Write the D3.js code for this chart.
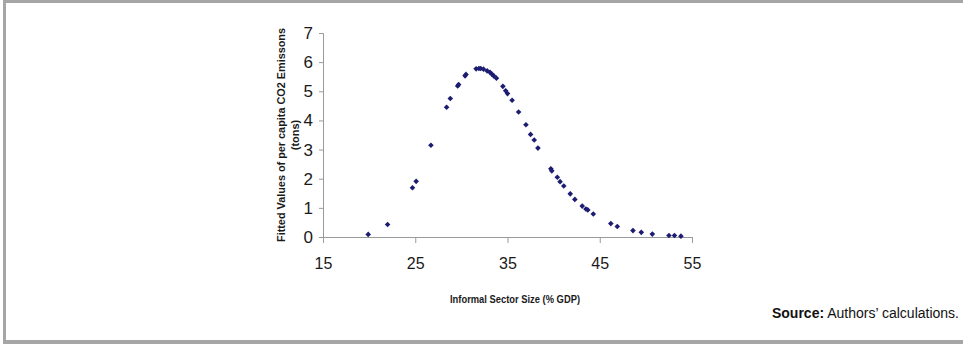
<!DOCTYPE html>
<html>
<head>
<meta charset="utf-8">
<script src="https://cdn.jsdelivr.net/npm/d3@7"></script>
<style>
  body { margin: 0; background: #fff; }
  svg { display: block; font-family: "Liberation Sans", Arial, sans-serif; }
</style>
</head>
<body>
<div id="chart"></div>
<script>
// informal sector size (% GDP) vs fitted CO2 per capita (tons)
const informalSize = [19.9, 22.0, 24.7, 25.1, 26.7, 28.4, 28.8, 29.6, 29.7, 30.4, 30.5,
  31.6, 31.9, 32.1, 32.4, 32.8, 33.1, 33.3, 33.5, 33.8, 34.5, 34.8, 35.0, 35.5, 36.2,
  37.0, 37.5, 37.9, 38.3, 39.7, 39.8, 40.4, 40.7, 41.1, 41.8, 42.3, 43.1, 43.5, 43.7,
  44.3, 46.2, 46.9, 48.6, 49.5, 50.7, 52.5, 53.1, 53.8];
const fittedCO2 = [0.09, 0.43, 1.69, 1.91, 3.15, 4.45, 4.75, 5.18, 5.23, 5.53, 5.58,
  5.77, 5.78, 5.78, 5.76, 5.70, 5.65, 5.59, 5.53, 5.45, 5.17, 5.02, 4.92, 4.69, 4.29,
  3.85, 3.52, 3.33, 3.05, 2.34, 2.27, 2.05, 1.90, 1.75, 1.48, 1.29, 1.06, 0.96, 0.93,
  0.79, 0.46, 0.36, 0.22, 0.16, 0.10, 0.05, 0.05, 0.03];
const xTicks = [15, 25, 35, 45, 55];
const yTicks = [0, 1, 2, 3, 4, 5, 6, 7];

const width = 963, height = 344;
const points = informalSize.map((x, i) => ({ x, y: fittedCO2[i] }));

const svg = d3.select('#chart').append('svg')
  .attr('width', width)
  .attr('height', height);

// grey frame (top, left, bottom)
const frame = '#a6a6a6';
svg.append('rect').attr('x', 3).attr('y', 0).attr('width', width - 3).attr('height', 3).attr('fill', frame);
svg.append('rect').attr('x', 3).attr('y', 0).attr('width', 3).attr('height', height).attr('fill', frame);
svg.append('rect').attr('x', 3).attr('y', 340).attr('width', width - 3).attr('height', 4).attr('fill', frame);

const x = d3.scaleLinear().domain([15, 55]).range([323, 692]);
const y = d3.scaleLinear().domain([0, 7]).range([237, 33]);

const xAxis = svg.append('g')
  .attr('transform', `translate(0,${y(0)})`)
  .call(d3.axisBottom(x).tickValues(xTicks).tickSize(6).tickPadding(15).tickFormat(d3.format('d')));

const yAxis = svg.append('g')
  .attr('transform', `translate(${x(15)},0)`)
  .call(d3.axisLeft(y).tickValues(yTicks).tickSize(4).tickPadding(6).tickFormat(d3.format('d')));

[xAxis, yAxis].forEach(a => {
  a.select('.domain').attr('stroke', '#9a9a9a');
  a.selectAll('.tick line').attr('stroke', '#9a9a9a');
  a.selectAll('.tick text')
    .attr('fill', '#1a1a1a')
    .style('font-family', '"Liberation Sans", Arial, sans-serif');
});
xAxis.selectAll('.tick text').style('font-size', '16px');
yAxis.selectAll('.tick text').style('font-size', '17px');

// markers
svg.append('g').selectAll('path')
  .data(points)
  .enter()
  .append('path')
  .attr('transform', d => `translate(${x(d.x)},${y(d.y)})`)
  .attr('d', d3.symbol(d3.symbolDiamond2, 20))
  .attr('fill', '#1c1c72');

// axis titles
svg.append('text')
  .attr('transform', 'translate(285,135) rotate(-90)')
  .attr('text-anchor', 'middle')
  .attr('textLength', 214)
  .attr('lengthAdjust', 'spacingAndGlyphs')
  .style('font-size', '11px')
  .style('font-weight', 'bold')
  .attr('fill', '#1a1a1a')
  .text('Fitted Values of per capita CO2 Emissons');

svg.append('text')
  .attr('transform', 'translate(299,135) rotate(-90)')
  .attr('text-anchor', 'middle')
  .style('font-size', '11px')
  .style('font-weight', 'bold')
  .attr('fill', '#1a1a1a')
  .text('(tons)');

svg.append('text')
  .attr('x', 515)
  .attr('y', 303)
  .attr('text-anchor', 'middle')
  .attr('textLength', 130)
  .attr('lengthAdjust', 'spacingAndGlyphs')
  .style('font-size', '11px')
  .style('font-weight', 'bold')
  .attr('fill', '#1a1a1a')
  .text('Informal Sector Size (% GDP)');

// source note
const src = svg.append('text')
  .attr('x', 959)
  .attr('y', 318)
  .attr('text-anchor', 'end')
  .style('font-size', '14px')
  .attr('fill', '#111');
src.append('tspan').style('font-weight', 'bold').text('Source:');
src.append('tspan').text(' Authors\u2019 calculations.');
</script>
</body>
</html>
